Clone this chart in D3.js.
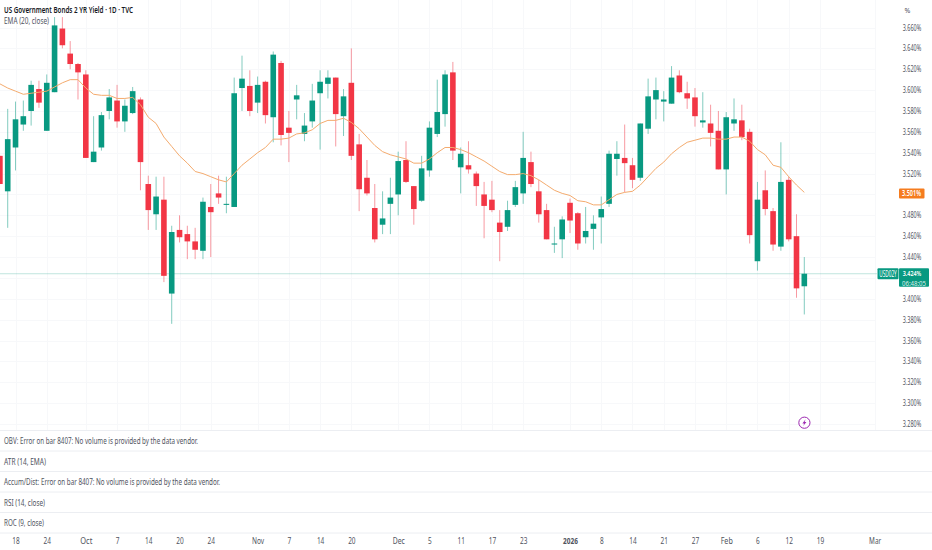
<!DOCTYPE html>
<html><head><meta charset="utf-8">
<script src="https://cdn.jsdelivr.net/npm/d3@7"></script>
<style>
html,body{margin:0;padding:0;background:#fff}
svg{display:block}
text{font-family:"Noto Sans",sans-serif}
</style></head><body>
<svg id="c" width="932" height="550"></svg>
<script>
const title="US Government Bonds 2 YR Yield · 1D · TVC";
const emaLabel="EMA (20, close)";
const paneLabels=["OBV: Error on bar 8407: No volume is provided by the data vendor.","ATR (14, EMA)","Accum/Dist: Error on bar 8407: No volume is provided by the data vendor.","RSI (14, close)","ROC (9, close)"];
const highs=[3.537,3.582,3.589,3.590,3.609,3.609,3.615,3.670,3.670,3.647,3.626,3.619,3.575,3.579,3.601,3.605,3.591,3.603,3.593,3.518,3.517,3.517,3.470,3.480,3.470,3.468,3.497,3.510,3.518,3.517,3.612,3.633,3.619,3.613,3.609,3.637,3.628,3.580,3.605,3.578,3.606,3.619,3.619,3.612,3.601,3.640,3.558,3.533,3.510,3.503,3.516,3.541,3.551,3.508,3.537,3.570,3.610,3.619,3.627,3.545,3.551,3.522,3.512,3.513,3.485,3.494,3.513,3.560,3.541,3.514,3.491,3.469,3.479,3.496,3.483,3.488,3.480,3.498,3.542,3.551,3.567,3.535,3.568,3.611,3.612,3.599,3.623,3.619,3.608,3.602,3.598,3.586,3.580,3.579,3.592,3.586,3.563,3.512,3.523,3.487,3.550,3.517,3.481,3.440];
const opens=[3.537,3.503,3.545,3.567,3.580,3.601,3.561,3.598,3.659,3.635,3.625,3.615,3.531,3.545,3.580,3.590,3.570,3.578,3.591,3.510,3.481,3.495,3.405,3.466,3.462,3.455,3.446,3.488,3.501,3.490,3.488,3.602,3.604,3.588,3.608,3.574,3.626,3.564,3.591,3.558,3.570,3.597,3.606,3.612,3.575,3.607,3.548,3.516,3.487,3.471,3.491,3.500,3.533,3.508,3.494,3.523,3.558,3.577,3.617,3.526,3.528,3.520,3.500,3.495,3.473,3.469,3.490,3.501,3.531,3.503,3.485,3.452,3.457,3.492,3.482,3.459,3.467,3.478,3.491,3.534,3.535,3.528,3.516,3.563,3.591,3.589,3.587,3.614,3.597,3.593,3.569,3.568,3.561,3.524,3.568,3.571,3.560,3.436,3.504,3.484,3.450,3.514,3.460,3.412];
const closes=[3.510,3.553,3.572,3.575,3.605,3.588,3.607,3.662,3.643,3.625,3.617,3.535,3.541,3.576,3.593,3.570,3.585,3.599,3.531,3.485,3.498,3.422,3.464,3.459,3.455,3.447,3.493,3.483,3.497,3.491,3.597,3.611,3.580,3.605,3.576,3.634,3.557,3.559,3.595,3.566,3.590,3.608,3.612,3.577,3.594,3.537,3.505,3.501,3.457,3.477,3.497,3.532,3.512,3.486,3.525,3.564,3.579,3.615,3.542,3.539,3.524,3.508,3.489,3.485,3.464,3.485,3.507,3.535,3.510,3.481,3.457,3.453,3.476,3.475,3.453,3.465,3.472,3.486,3.539,3.539,3.530,3.514,3.568,3.594,3.600,3.591,3.612,3.598,3.592,3.575,3.571,3.559,3.524,3.574,3.572,3.555,3.461,3.495,3.486,3.452,3.512,3.457,3.410,3.424];
const lows=[3.510,3.468,3.523,3.561,3.566,3.583,3.561,3.598,3.640,3.620,3.591,3.535,3.531,3.542,3.572,3.564,3.560,3.577,3.504,3.466,3.466,3.416,3.376,3.454,3.438,3.438,3.438,3.440,3.491,3.482,3.488,3.580,3.575,3.578,3.568,3.550,3.547,3.531,3.572,3.551,3.564,3.543,3.592,3.546,3.556,3.533,3.484,3.499,3.454,3.462,3.462,3.480,3.511,3.471,3.493,3.517,3.555,3.565,3.533,3.501,3.520,3.489,3.458,3.483,3.436,3.465,3.488,3.491,3.507,3.473,3.457,3.444,3.439,3.463,3.447,3.453,3.447,3.453,3.488,3.518,3.502,3.506,3.513,3.558,3.572,3.570,3.587,3.597,3.582,3.565,3.564,3.546,3.524,3.500,3.561,3.552,3.453,3.427,3.480,3.446,3.446,3.455,3.401,3.385];
const ema=[3.606,3.602,3.599,3.596,3.597,3.598,3.599,3.603,3.607,3.610,3.610,3.602,3.596,3.595,3.595,3.592,3.592,3.593,3.586,3.574,3.568,3.555,3.546,3.537,3.530,3.522,3.520,3.517,3.514,3.512,3.520,3.528,3.534,3.540,3.545,3.553,3.553,3.554,3.558,3.559,3.562,3.568,3.571,3.571,3.573,3.569,3.563,3.555,3.547,3.541,3.538,3.536,3.534,3.530,3.530,3.534,3.540,3.545,3.545,3.543,3.540,3.536,3.532,3.527,3.522,3.519,3.519,3.520,3.518,3.514,3.509,3.504,3.501,3.499,3.494,3.493,3.490,3.490,3.495,3.500,3.502,3.503,3.509,3.517,3.525,3.531,3.539,3.545,3.550,3.552,3.554,3.554,3.553,3.553,3.555,3.555,3.551,3.543,3.538,3.528,3.526,3.517,3.509,3.502];
const yTicks=[3.66,3.64,3.62,3.60,3.58,3.56,3.54,3.52,3.48,3.46,3.44,3.40,3.38,3.36,3.34,3.32,3.30,3.28];
const xTickIdx=[2,6,11,15,19,23,27,33,37,41,45,51,55,59,63,67,73,77,81,85,89,93,97,101,105,112];
const xTickLabels=["18","24","Oct","7","14","20","24","Nov","7","14","20","Dec","5","11","17","23","2026","8","14","21","27","Feb","6","12","19","Mar"];
const lastPrice=3.424, lastEma=3.501, symbol="USD02Y", countdown="06:48:05", unit="%";

const svg=d3.select("#c");
const plotW=875, chartBottom=430.5;
const x=d3.scaleLinear().domain([0,112]).range([-0.1,874.6]);
const y=d3.scaleLinear().domain([3.28,3.66]).range([424,27.5]);
const gridC="#f7f8fa";

// grid
const grid=svg.append("g");
grid.selectAll("line.h").data(yTicks.concat([3.5,3.42])).join("line").attr("class","h")
  .attr("x1",0).attr("x2",plotW).attr("y1",d=>Math.round(y(d))+.5).attr("y2",d=>Math.round(y(d))+.5).attr("stroke",gridC);
grid.selectAll("line.v").data(xTickIdx).join("line").attr("class","v")
  .attr("x1",d=>Math.round(x(d))+.5).attr("x2",d=>Math.round(x(d))+.5).attr("y1",0).attr("y2",chartBottom).attr("stroke",gridC);

// pane separators
const sep=[430.5,451,471.5,492,512.5,533];
svg.append("g").selectAll("line").data(sep).join("line")
  .attr("x1",0).attr("x2",932).attr("y1",d=>d).attr("y2",d=>d).attr("stroke","#eceef2");

// last price line
svg.append("line").attr("x1",0).attr("x2",877).attr("y1",y(lastPrice)).attr("y2",y(lastPrice)).attr("stroke","#089981").attr("stroke-opacity",.25);

// candles
const idx=d3.range(closes.length);
const green="#089981", red="#F23645";
const col=i=>closes[i]>=opens[i]?green:red;
const g=svg.append("g");
g.selectAll("line.w").data(idx).join("line").attr("class","w")
  .attr("x1",i=>x(i)).attr("x2",i=>x(i)).attr("y1",i=>y(highs[i])).attr("y2",i=>y(lows[i]))
  .attr("stroke",col).attr("stroke-opacity",.5).attr("stroke-width",1);
g.selectAll("rect").data(idx).join("rect")
  .attr("x",i=>x(i)-2.8).attr("width",5.6)
  .attr("y",i=>y(Math.max(opens[i],closes[i])))
  .attr("height",i=>Math.max(1,Math.abs(y(opens[i])-y(closes[i]))))
  .attr("fill",col);

// EMA
svg.append("path").datum(ema).attr("fill","none").attr("stroke","#F4AB6E").attr("stroke-width",1)
  .attr("d",d3.line().x((d,i)=>x(i)).y(d=>y(d)));

// right mask and y axis
svg.append("rect").attr("x",877).attr("y",0).attr("width",55).attr("height",533).attr("fill","#fff");
const yAxis=svg.append("g").attr("transform","translate(912,0)")
  .call(d3.axisRight(y).tickValues(yTicks).tickSize(0).tickPadding(0).tickFormat(d=>d.toFixed(3)+"%"));
yAxis.select(".domain").remove();
yAxis.selectAll("text").attr("text-anchor","middle").attr("textLength",18.5).attr("lengthAdjust","spacingAndGlyphs")
  .attr("font-size",8).attr("font-family","Noto Sans").attr("fill","#50535E");
svg.append("text").attr("x",904.5).attr("y",13).attr("font-size",7).attr("fill","#50535E").text(unit);
svg.selectAll("line.sepr").data(sep).join("line").attr("class","sepr")
  .attr("x1",877).attr("x2",932).attr("y1",d=>d).attr("y2",d=>d).attr("stroke","#eceef2");

// x axis
const xAxis=svg.append("g").attr("transform","translate(0,538)")
  .call(d3.axisBottom(x).tickValues(xTickIdx).tickSize(0).tickPadding(0).tickFormat((d,i)=>xTickLabels[i]));
xAxis.select(".domain").remove();
xAxis.selectAll("text").attr("font-size",8).attr("font-family","Noto Sans").attr("fill","#50535E")
  .attr("font-weight",(d,i)=>xTickLabels[i]==="2026"?700:400)
  .attr("textLength",(d,i)=>xTickLabels[i].length*3.7+(isNaN(+xTickLabels[i])?1:0)).attr("lengthAdjust","spacingAndGlyphs");

// labels
const lab=(t,px,py,len,w,c)=>svg.append("text").attr("x",px).attr("y",py).attr("font-size",8.2)
  .attr("font-weight",w||400).attr("fill",c||"#50535E").attr("textLength",len).attr("lengthAdjust","spacingAndGlyphs").text(t);
lab(title,4,13,129,600,"#131722");
lab(emaLabel,4,23.5,45);
const paneY=[443.7,464.7,485,505.5,526], paneLen=[194,42,216,41,40];
paneLabels.forEach((t,i)=>lab(t,4,paneY[i],paneLen[i]));

// EMA tag
svg.append("rect").attr("x",899).attr("y",y(lastEma)-5).attr("width",25.5).attr("height",10).attr("rx",1).attr("fill","#F57C1F");
svg.append("text").attr("x",911.5).attr("y",y(lastEma)+3).attr("text-anchor","middle").attr("font-size",8).attr("font-weight",600).attr("fill","#fff")
  .attr("textLength",19).attr("lengthAdjust","spacingAndGlyphs").text(lastEma.toFixed(3)+"%");

// price tags
const py=y(lastPrice);
svg.append("rect").attr("x",877.5).attr("y",py-5.5).attr("width",21).attr("height",11).attr("rx",1).attr("fill",green);
svg.append("text").attr("x",888).attr("y",py+2.8).attr("text-anchor","middle").attr("font-size",8).attr("fill","#fff")
  .attr("textLength",17.5).attr("lengthAdjust","spacingAndGlyphs").text(symbol);
svg.append("rect").attr("x",899).attr("y",py-5.5).attr("width",30).attr("height",18.5).attr("rx",1).attr("fill",green);
svg.append("text").attr("x",912).attr("y",py+2.4).attr("text-anchor","middle").attr("font-size",7).attr("font-weight",600).attr("fill","#fff")
  .attr("textLength",18.5).attr("lengthAdjust","spacingAndGlyphs").text(lastPrice.toFixed(3)+"%");
svg.append("text").attr("x",914).attr("y",py+11.8).attr("text-anchor","middle").attr("font-size",6.5).attr("fill","#fff").attr("fill-opacity",.85)
  .attr("textLength",24).attr("lengthAdjust","spacingAndGlyphs").text(countdown);

// bolt icon
const ic=svg.append("g").attr("transform","translate(804.4,422.7)");
ic.append("circle").attr("r",5.6).attr("fill","#fff").attr("stroke","#9C27B0").attr("stroke-width",1);
ic.append("path").attr("d",d3.line()([[1.2,-3.4],[-2,.7],[-.2,.7],[-1.2,3.4],[2,-.7],[.2,-.7]])+"Z").attr("fill","#9C27B0");
</script>
</body></html>
